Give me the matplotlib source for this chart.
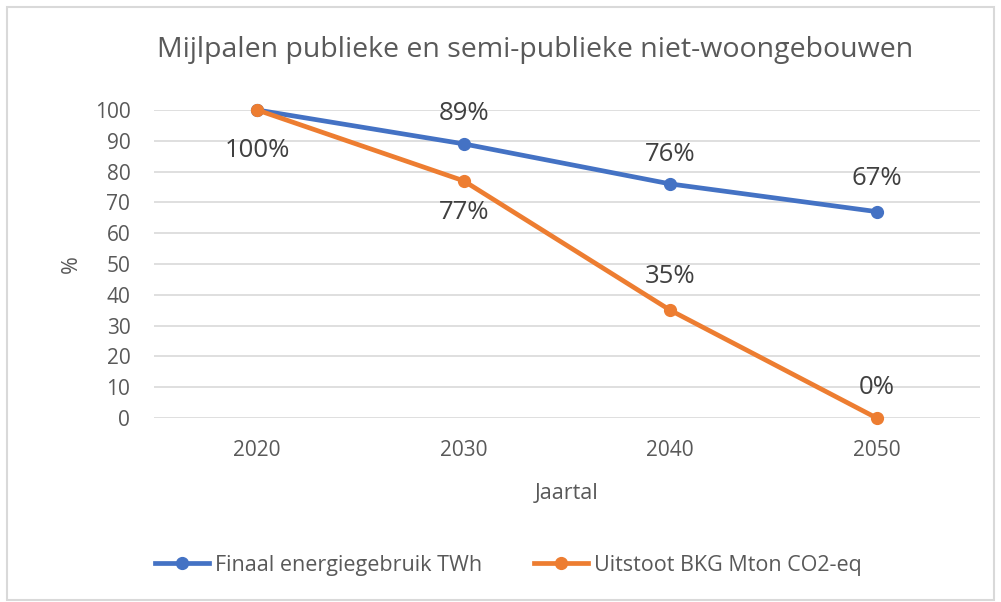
import numpy as np
import matplotlib.pyplot as plt
from matplotlib.patches import Rectangle

# data
jaren = ["2020", "2030", "2040", "2050"]
energie = [100, 89, 76, 67]
uitstoot = [100, 77, 35, 0]
energie_labels = ["", "89%", "76%", "67%"]
uitstoot_labels = ["100%", "77%", "35%", "0%"]

# label offsets (points, from marker to label centre)
energie_off = [0, 22, 21, 24]
uitstoot_off = [-29, -23, 24, 22]

blauw = "#4472C4"
oranje = "#ED7D31"
grijs = "#595959"

plt.rcParams['font.family'] = ['Open Sans', 'DejaVu Sans']

fig = plt.figure(figsize=(10.01, 6.02), dpi=100)
ax = fig.add_axes([0.1538, 0.3056, 0.8252, 0.5117])

x = np.arange(len(jaren))
ax.plot(x, energie, color=blauw, lw=3.4, marker='o', ms=8.5, label="Finaal energiegebruik TWh",
        zorder=3, clip_on=False)
ax.plot(x, uitstoot, color=oranje, lw=3.4, marker='o', ms=8.5, label="Uitstoot BKG Mton CO2-eq",
        zorder=4, clip_on=False)

# data labels
for i, t in enumerate(energie_labels):
    if t:
        ax.annotate(t, (x[i], energie[i]), xytext=(0, energie_off[i]), textcoords='offset points',
                    ha='center', va='center', fontsize=18.5, color='#404040')
for i, t in enumerate(uitstoot_labels):
    ax.annotate(t, (x[i], uitstoot[i]), xytext=(0, uitstoot_off[i]), textcoords='offset points',
                ha='center', va='center', fontsize=18.5, color='#404040')

ax.set_xlim(-0.5, 3.5)
ax.set_ylim(0, 100)
ax.set_yticks(range(0, 101, 10))
ax.set_xticks(x)
ax.set_xticklabels(jaren)
ax.grid(axis='y', color='#d9d9d9', lw=1.2)
ax.set_axisbelow(True)
for s in ax.spines.values():
    s.set_visible(False)
ax.tick_params(length=0, labelsize=15, colors=grijs)
ax.tick_params(axis='y', pad=17)
ax.tick_params(axis='x', pad=16)

ax.set_ylabel("%", fontsize=15.5, color=grijs, labelpad=9)
ax.set_xlabel("Jaartal", fontsize=15.5, color=grijs, labelpad=16)
fig.text(0.535, 0.917, "Mijlpalen publieke en semi-publieke niet-woongebouwen",
         ha='center', va='center', fontsize=20.5, color=grijs)

leg = ax.legend(loc='center', bbox_to_anchor=(0.508, 0.061), bbox_transform=fig.transFigure,
                ncol=2, frameon=False, fontsize=15.5, labelcolor=grijs, columnspacing=2.4,
                handlelength=2.5, handletextpad=0.3)

fig.patches.append(Rectangle((0.007, 0.003), 0.986, 0.985, transform=fig.transFigure,
                             fill=False, edgecolor='#d9d9d9', lw=1.5))

fig.savefig("out.png", dpi=100)
